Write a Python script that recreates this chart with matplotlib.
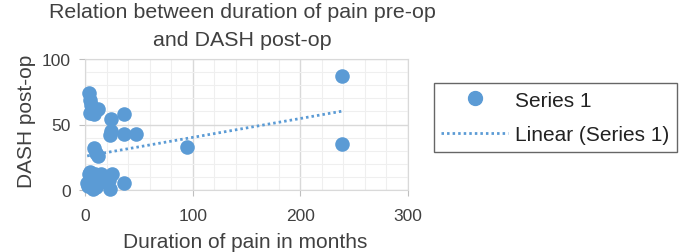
import numpy as np
import matplotlib
matplotlib.use("Agg")
import matplotlib.pyplot as plt
from matplotlib.lines import Line2D
from matplotlib.ticker import MultipleLocator

plt.rcParams['font.family'] = ['Liberation Sans', 'DejaVu Sans']

# duration of pain (months) vs DASH post-op score
duration = [4, 5, 6, 8, 12, 8, 5, 24, 36, 23, 36, 47, 24, 8, 12, 10,
            4, 9, 25, 4, 7, 23, 36, 17, 22, 2, 6, 14,
            3, 6, 10, 13, 5, 15, 95, 239, 239]
dash = [74, 69, 65, 60, 62, 58, 59, 54, 58, 42, 43, 43, 45, 32, 26, 28,
        12, 12, 12, 4, 1, 1, 5, 7, 8, 5, 8, 10,
        3, 10, 2, 6, 14, 12, 33, 87, 35]

blue = "#5B9BD5"
grey = "#595959"
dark = "#404040"
W, H = 689, 253

fig = plt.figure(figsize=(6.89, 2.53), dpi=100)
ax = fig.add_axes([85 / W, 1 - 191 / H, 323 / W, 131 / H])

ax.scatter(duration, dash, s=110, color=blue, zorder=3, clip_on=False, linewidths=0)

# linear trendline
x = np.array(duration, dtype=float)
slope, icept = np.polyfit(x, dash, 1)
xs = np.array([x.min(), x.max()])
dots = (0, (0.9, 1.1))
ax.plot(xs, slope * xs + icept, linestyle=dots, color=blue, lw=2.0, zorder=2)

ax.set_xlim(0, 300)
ax.set_ylim(0, 100)
ax.xaxis.set_major_locator(MultipleLocator(100))
ax.xaxis.set_minor_locator(MultipleLocator(20))
ax.yaxis.set_major_locator(MultipleLocator(50))
ax.yaxis.set_minor_locator(MultipleLocator(10))
ax.grid(which='major', color='#d9d9d9', lw=1.0)
ax.grid(which='minor', color='#efefef', lw=0.8)
ax.set_axisbelow(True)
for s in ax.spines.values():
    s.set_color('#d9d9d9')
ax.tick_params(which='major', length=4, color='#bfbfbf', labelsize=12.5, labelcolor=dark)
ax.tick_params(axis='x', pad=9)
ax.tick_params(axis='y', pad=6)
ax.tick_params(which='minor', length=0)

ax.set_xlabel("Duration of pain in months", fontsize=15, color=dark)
ax.set_ylabel("DASH post-op", fontsize=15, color=dark)
ax.xaxis.set_label_coords((245 - 85) / 323, -(243 - 191) / 131)
ax.yaxis.set_label_coords(-(85 - 27) / 323, (191 - 121) / 131)
ax.xaxis.label.set_va('center')
ax.yaxis.label.set_va('center')

fig.text(242 / W, 1 - 13 / H, "Relation between duration of pain pre-op",
         ha='center', va='center', fontsize=15.4, color=dark)
fig.text(242 / W, 1 - 40 / H, "and DASH post-op",
         ha='center', va='center', fontsize=15.4, color=dark)

handles = [Line2D([], [], marker='o', ls='none', color=blue, markersize=10),
           Line2D([], [], ls=dots, color=blue, lw=2.0)]
leg = fig.legend(handles, ["Series 1", "Linear (Series 1)"], loc='center left',
                 bbox_to_anchor=(434 / W, 1 - 118.5 / H), fontsize=15, frameon=True,
                 fancybox=False, edgecolor=dark, handlelength=3.2, labelcolor='#222222',
                 borderpad=0.35, handletextpad=0.35, labelspacing=0.75, borderaxespad=0)
leg.get_frame().set_linewidth(1.0)

fig.savefig("out.png", dpi=100)
